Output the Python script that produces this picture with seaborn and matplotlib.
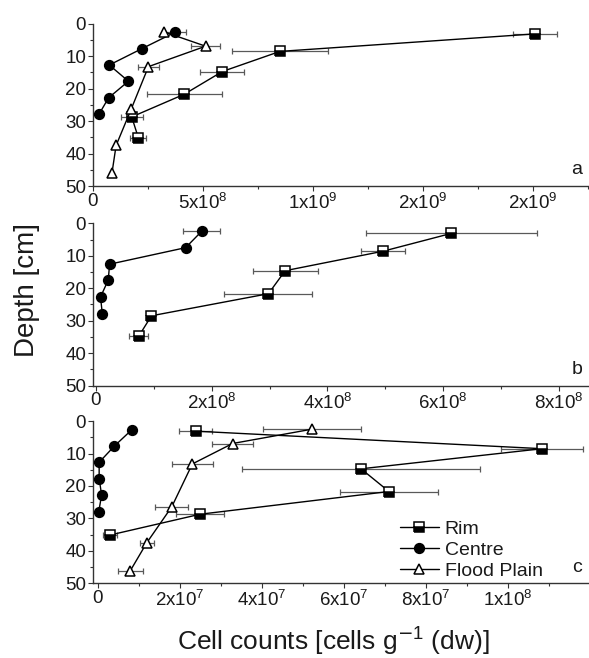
import numpy as np
import pandas as pd
import matplotlib
matplotlib.use("Agg")
import matplotlib.pyplot as plt
import seaborn as sns
from matplotlib.ticker import FixedLocator, FixedFormatter, MultipleLocator
from matplotlib.lines import Line2D

# ---------------- data ----------------
depth_rim = [3.1, 8.5, 14.7, 21.7, 28.7, 35.1]
depth_centre = [2.6, 7.7, 12.7, 17.7, 22.8, 27.9]
depth_flood = [2.5, 6.9, 13.2, 26.4, 37.5, 46.1]
depth_rim_b = [3.1, 8.6, 14.6, 21.7, 28.5, 34.8]
depth_centre_b = [2.4, 7.5, 12.6, 17.5, 22.7, 27.8]

# panel a
a_rim = [2.01e9, 0.85e9, 0.588e9, 0.415e9, 0.176e9, 0.206e9]
a_rim_err = [0.10e9, 0.22e9, 0.10e9, 0.17e9, 0.05e9, 0.037e9]
a_centre = [0.373e9, 0.221e9, 0.074e9, 0.161e9, 0.071e9, 0.027e9]
a_centre_err = [0.05e9, 0, 0, 0, 0, 0]
a_flood = [0.324e9, 0.512e9, 0.252e9, 0.173e9, 0.105e9, 0.086e9]
a_flood_err = [0, 0.065e9, 0.048e9, 0, 0, 0]

# panel b
b_rim = [6.14e8, 4.96e8, 3.27e8, 2.98e8, 0.96e8, 0.74e8]
b_rim_err = [1.48e8, 0.38e8, 0.56e8, 0.76e8, 0, 0.16e8]
b_centre = [1.83e8, 1.55e8, 0.237e8, 0.213e8, 0.08e8, 0.11e8]
b_centre_err = [0.32e8, 0, 0, 0, 0, 0]

# panel c
c_rim = [2.39e7, 10.83e7, 6.42e7, 7.1e7, 2.5e7, 0.31e7]
c_rim_err = [0.4e7, 1.0e7, 2.9e7, 1.2e7, 0.59e7, 0.17e7]
c_centre = [0.84e7, 0.41e7, 0.04e7, 0.04e7, 0.10e7, 0.03e7]
c_centre_err = [0, 0, 0, 0, 0, 0]
c_flood = [5.22e7, 3.29e7, 2.31e7, 1.81e7, 1.2e7, 0.8e7]
c_flood_err = [1.2e7, 0.5e7, 0.5e7, 0.4e7, 0.17e7, 0.3e7]

series_names = ["Rim", "Centre", "Flood Plain"]

a_ticks = [0, 5e8, 1e9, 1.5e9, 2e9]
a_labels = ["0", "5x10$^{8}$", "1x10$^{9}$", "2x10$^{9}$", "2x10$^{9}$"]
b_ticks = [0, 2e8, 4e8, 6e8, 8e8]
b_labels = ["0", "2x10$^{8}$", "4x10$^{8}$", "6x10$^{8}$", "8x10$^{8}$"]
c_ticks = [0, 2e7, 4e7, 6e7, 8e7, 1e8]
c_labels = ["0", "2x10$^{7}$", "4x10$^{7}$", "6x10$^{7}$", "8x10$^{7}$", "1x10$^{8}$"]
y_ticks = [0, 10, 20, 30, 40, 50]

# ---------------- style ----------------
sns.set_theme(style="ticks")
plt.rcParams["font.family"] = ["Liberation Sans", "DejaVu Sans"]
plt.rcParams["mathtext.fontset"] = "custom"
plt.rcParams["mathtext.rm"] = "Liberation Sans"
plt.rcParams["mathtext.it"] = "Liberation Sans"
plt.rcParams["mathtext.default"] = "rm"

fig = plt.figure(figsize=(5.89, 6.58), dpi=100)

L, W, H = 93 / 589, 495 / 589, 0.2465
axa = fig.add_axes([L, 0.7173, W, H])
axb = fig.add_axes([L, 0.4141, W, H])
axc = fig.add_axes([L, 0.1135, W, H])

styles = {
    "Rim": dict(marker="s", markersize=6.5, fillstyle="bottom",
                markerfacecolor="black", markerfacecoloralt="white"),
    "Centre": dict(marker="o", markersize=7, markerfacecolor="black"),
    "Flood Plain": dict(marker="^", markersize=7.5, markerfacecolor="white"),
}


def draw(ax, x, y, err, name):
    df = pd.DataFrame({"count": x, "depth": y})
    sns.lineplot(data=df, x="count", y="depth", sort=False, estimator=None,
                 ax=ax, color="black", linewidth=1.0,
                 markeredgecolor="black", markeredgewidth=1.1,
                 zorder=3, label=name, **styles[name])
    xe = np.array(x)
    ye = np.array(y)
    ee = np.array(err, dtype=float)
    m = ee > 0
    if m.any():
        ax.errorbar(xe[m], ye[m], xerr=ee[m], fmt="none", ecolor="0.35",
                    elinewidth=0.9, capsize=2.2, capthick=0.9, zorder=2)


draw(axa, a_rim, depth_rim, a_rim_err, "Rim")
draw(axa, a_centre, depth_centre, a_centre_err, "Centre")
draw(axa, a_flood, depth_flood, a_flood_err, "Flood Plain")

draw(axb, b_rim, depth_rim_b, b_rim_err, "Rim")
draw(axb, b_centre, depth_centre_b, b_centre_err, "Centre")

draw(axc, c_rim, depth_rim, c_rim_err, "Rim")
draw(axc, c_centre, depth_centre, c_centre_err, "Centre")
draw(axc, c_flood, depth_flood, c_flood_err, "Flood Plain")

setup = [
    (axa, (0, 2.25e9), a_ticks, a_labels, 2.5e8, "a"),
    (axb, (-5e6, 8.5e8), b_ticks, b_labels, 1e8, "b"),
    (axc, (-1.1e6, 1.195e8), c_ticks, c_labels, 1e7, "c"),
]
for ax, xl, ticks, labels, minor, letter in setup:
    ax.set_xlim(*xl)
    ax.set_ylim(50, 0)
    ax.xaxis.set_major_locator(FixedLocator(ticks))
    ax.xaxis.set_major_formatter(FixedFormatter(labels))
    ax.xaxis.set_minor_locator(MultipleLocator(minor))
    ax.yaxis.set_major_locator(FixedLocator(y_ticks))
    ax.yaxis.set_minor_locator(MultipleLocator(5))
    ax.set_xlabel("")
    ax.set_ylabel("")
    sns.despine(ax=ax)
    for s in ("left", "bottom"):
        ax.spines[s].set_linewidth(1.0)
        ax.spines[s].set_color("0.2")
    ax.tick_params(axis="both", which="major", direction="out", length=3.5,
                   width=0.8, color="0.2", labelsize=13.5, pad=1.5,
                   labelcolor="0.1")
    ax.tick_params(axis="both", which="minor", direction="out", length=2,
                   width=0.8, color="0.2")
    ax.text(0.978, 0.1, letter, transform=ax.transAxes, ha="center",
            va="center", fontsize=14, color="0.1")
    ax.set_facecolor("white")
    if ax.get_legend() is not None:
        ax.get_legend().remove()

# legend
handles = [Line2D([], [], color="black", linewidth=1.0, markeredgecolor="black",
                  markeredgewidth=1.1, **styles[n]) for n in series_names]
fig.legend(handles, series_names, loc="upper left",
           bbox_to_anchor=(0.679, 0.209), bbox_transform=fig.transFigure,
           frameon=False, fontsize=14, handlelength=2.0, handletextpad=0.3,
           labelspacing=0.16, borderpad=0, borderaxespad=0,
           labelcolor="0.1")

fig.text(27 / 589, 1 - 290 / 658, "Depth [cm]", rotation=90, ha="center",
         va="center", fontsize=20, color="0.1")
fig.text(177 / 589, 1 - 651 / 658, "Cell counts [cells g$^{\\mathsf{-}1}$ (dw)]",
         ha="left", va="baseline", fontsize=19, color="0.1")

fig.savefig("out.png", dpi=100, facecolor="white")
